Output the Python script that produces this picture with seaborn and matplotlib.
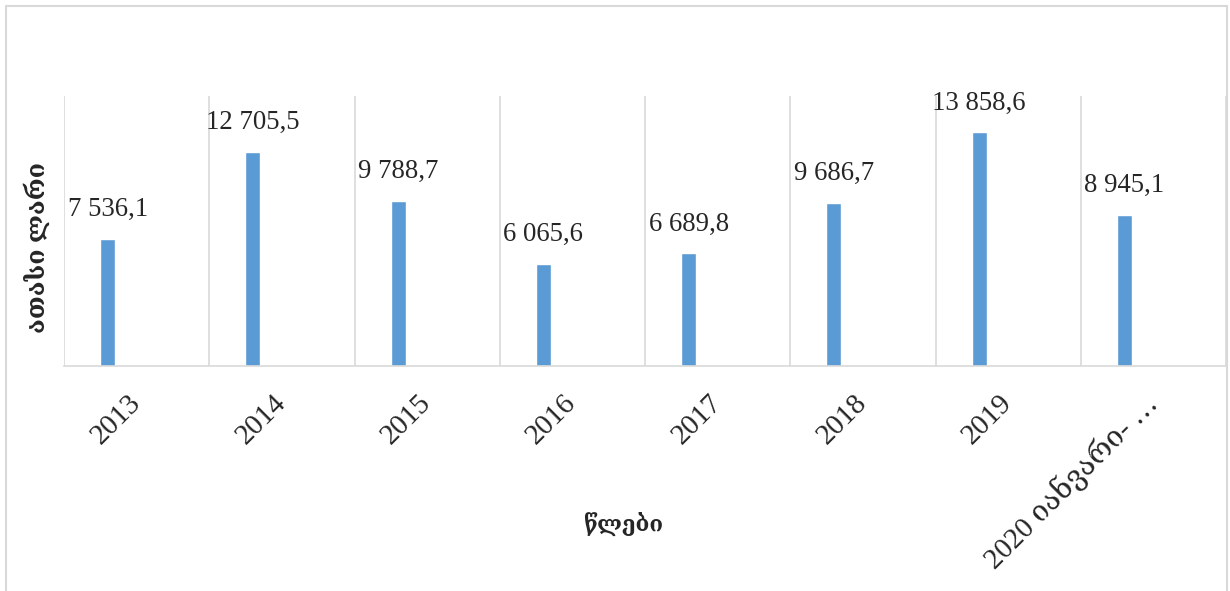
import pandas as pd
import numpy as np
import matplotlib.pyplot as plt
import matplotlib.patches as mpatches
import seaborn as sns

# 데이터
years = ['2013', '2014', '2015', '2016', '2017', '2018', '2019', '2020 იანვარი- …']
values = [7536.1, 12705.5, 9788.7, 6065.6, 6689.8, 9686.7, 13858.6, 8945.1]
value_labels = ['7 536,1', '12 705,5', '9 788,7', '6 065,6', '6 689,8', '9 686,7', '13 858,6', '8 945,1']
y_title = 'ათასი ლარი'
x_title = 'წლები'

df = pd.DataFrame({'year': years, 'value': values})

sns.set_style('white')
plt.rcParams['font.family'] = ['Liberation Serif', 'DejaVu Serif', 'DejaVu Sans']

fig = plt.figure(figsize=(12.3, 5.91), dpi=100)
ax = fig.add_axes([64 / 1230, 1 - 366 / 591, 1162 / 1230, 270 / 591])

sns.barplot(data=df, x='year', y='value', color='#5B9BD5', width=0.103,
            saturation=1, ax=ax)

# Excel 스타일: 막대를 카테고리 왼쪽으로 이동
for p in ax.patches:
    p.set_x(p.get_x() - 0.2)

for i, (v, lab) in enumerate(zip(values, value_labels)):
    ax.annotate(lab, (i - 0.2, v), xytext=(0, 12), textcoords='offset points',
                ha='center', va='bottom', fontsize=19.3)

ax.set_xlim(-0.5, len(years) - 0.5)
ax.set_ylim(0, 16000)
ax.set_yticks([])
ax.set_xticks(np.arange(-0.5, len(years)), minor=True)
ax.grid(True, which='minor', axis='x', color='#d9d9d9', linewidth=1.2)
ax.tick_params(axis='x', which='both', length=0)
ax.tick_params(axis='x', which='major', pad=24)
for s in ['top', 'right', 'left']:
    ax.spines[s].set_visible(False)
ax.spines['bottom'].set_color('#d9d9d9')
ax.spines['bottom'].set_linewidth(1.2)

ax.set_xticks(range(len(years)))
ax.set_xticklabels(years, rotation=45, ha='right', va='center',
                   rotation_mode='anchor', fontsize=21)

ax.set_xlabel(x_title, fontsize=16, fontweight='bold')
ax.xaxis.set_label_coords(0.481, -0.54)
ax.set_ylabel(y_title, fontsize=18, fontweight='bold')
ax.yaxis.set_label_coords(-0.012, 0.44)

# 차트 테두리
fig.patches.append(mpatches.Rectangle((6 / 1230, -0.05), 1221 / 1230, 1.05 - 6 / 591,
                                      transform=fig.transFigure, fill=False,
                                      edgecolor='#d9d9d9', linewidth=1.5))

plt.savefig('out.png', dpi=100)
